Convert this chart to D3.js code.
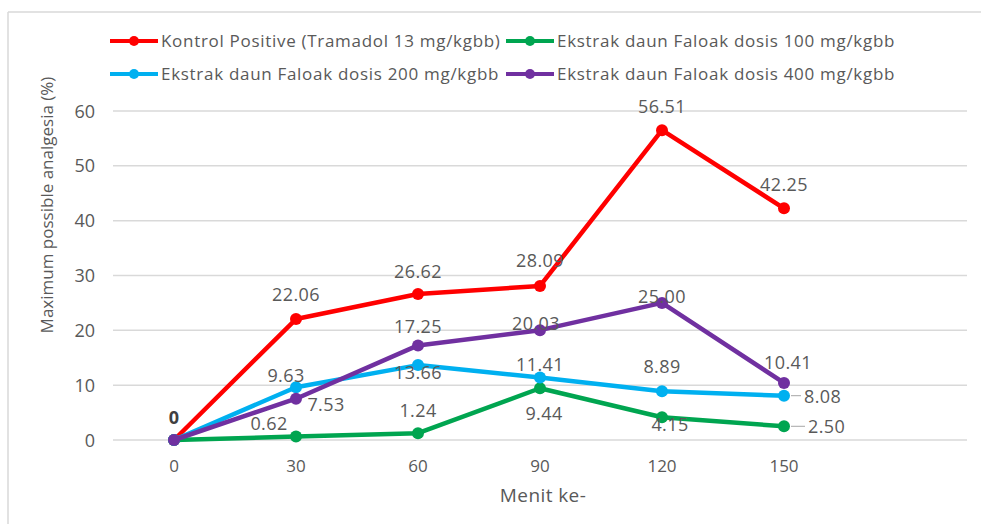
<!DOCTYPE html>
<html>
<head>
<meta charset="utf-8">
<script src="https://cdn.jsdelivr.net/npm/d3@7"></script>
<style>
  body { margin: 0; background: #fff; }
  svg text { font-family: "Open Sans", sans-serif; fill: #595959; }
</style>
</head>
<body>
<div id="chart"></div>
<script>
// minutes (last slot is an empty category, as in the original sheet)
var minutes = ["0", "30", "60", "90", "120", "150", ""];
var yTicks = [0, 10, 20, 30, 40, 50, 60];

var seriesNames = [
  "Kontrol Positive (Tramadol 13 mg/kgbb)",
  "Ekstrak daun Faloak dosis 100 mg/kgbb",
  "Ekstrak daun Faloak dosis 200 mg/kgbb",
  "Ekstrak daun Faloak dosis 400 mg/kgbb"
];
var kontrol = [0, 22.06, 26.62, 28.09, 56.51, 42.25];
var dosis100 = [0, 0.62, 1.24, 9.44, 4.15, 2.50];
var dosis200 = [0, 9.63, 13.66, 11.41, 8.89, 8.08];
var dosis400 = [0, 7.53, 17.25, 20.03, 25.00, 10.41];

var width = 981, height = 524;
var colors = ["#ff0000", "#00a550", "#00b0f0", "#7030a0"];

// label centre offset from its point: [dx, dy]; a third item = placed right with a leader
// null = label hidden (they all overlap the first "0")
var labelOffsets = [
  [[0, -23], [0, -25], [0, -23], [0, -25], [0, -24], [0, -24]],
  [null, [-27, -13], [0, -23], [4, 25], [8, 7], [24, 0, 1]],
  [null, [-10, -12], [0, 7], [0, -13], [0, -25], [20, 1, 1]],
  [null, [30, 6], [0, -19], [-4, -7], [0, -6], [4, -20]]
];

var series = [kontrol, dosis100, dosis200, dosis400].map(function(v, i) {
  return {name: seriesNames[i], values: v, color: colors[i], offs: labelOffsets[i]};
});

var svg = d3.select("#chart").append("svg")
  .attr("width", width)
  .attr("height", height);

// frame (only top and left edges are visible in the crop)
svg.append("line").attr("x1", 8).attr("x2", 981).attr("y1", 12).attr("y2", 12)
  .attr("stroke", "#d9d9d9").attr("stroke-width", 1.5);
svg.append("line").attr("x1", 8).attr("x2", 8).attr("y1", 12).attr("y2", 524)
  .attr("stroke", "#d9d9d9").attr("stroke-width", 1.5);

var x = d3.scaleBand().domain(d3.range(minutes.length)).range([113, 967]);
var y = d3.scaleLinear().domain([0, 60]).range([440, 111]);
function cx(i) { return x(i) + x.bandwidth() / 2; }

// gridlines
svg.append("g").selectAll("line").data(yTicks).join("line")
  .attr("x1", 113).attr("x2", 967)
  .attr("y1", function(d) { return y(d); })
  .attr("y2", function(d) { return y(d); })
  .attr("stroke", "#d9d9d9").attr("stroke-width", 1.5);

// y tick labels
svg.append("g").selectAll("text").data(yTicks).join("text")
  .attr("x", 95).attr("y", function(d) { return y(d) + 6.5; })
  .attr("text-anchor", "end")
  .style("font-size", "18px")
  .text(function(d) { return d; });

// x tick labels
svg.append("g").selectAll("text").data(minutes).join("text")
  .attr("x", function(d, i) { return cx(i); })
  .attr("y", 472)
  .attr("text-anchor", "middle")
  .style("font-size", "17px")
  .text(function(d) { return d; });

// axis titles
svg.append("text")
  .attr("x", 543).attr("y", 502)
  .attr("text-anchor", "middle")
  .style("font-size", "19px")
  .style("letter-spacing", "0.4px")
  .text("Menit ke-");

svg.append("text")
  .attr("transform", "translate(53,205) rotate(-90)")
  .attr("text-anchor", "middle")
  .style("font-size", "17px")
  .text("Maximum possible analgesia (%)");

// lines + markers
var line = d3.line()
  .x(function(d, i) { return cx(i); })
  .y(function(d) { return y(d); });

series.forEach(function(s) {
  var g = svg.append("g");
  g.append("path")
    .datum(s.values)
    .attr("d", line)
    .attr("fill", "none")
    .attr("stroke", s.color)
    .attr("stroke-width", 4.5)
    .attr("stroke-linejoin", "round");
  g.selectAll("circle").data(s.values).join("circle")
    .attr("cx", function(d, i) { return cx(i); })
    .attr("cy", function(d) { return y(d); })
    .attr("r", 6)
    .attr("fill", s.color);
});

// data labels
series.forEach(function(s) {
  s.values.forEach(function(v, i) {
    var o = s.offs[i];
    if (!o) return;
    var px = cx(i), py = y(v);
    var txt = i === 0 ? "0" : v.toFixed(2);
    var t = svg.append("text").style("font-size", "18px")
      .style("letter-spacing", "0.4px").text(txt);
    if (o[2]) {
      svg.append("line").attr("x1", px + 7).attr("x2", px + o[0] - 3)
        .attr("y1", py).attr("y2", py)
        .attr("stroke", "#a6a6a6").attr("stroke-width", 1);
      t.attr("x", px + o[0]).attr("y", py + o[1] + 6.5).attr("text-anchor", "start");
    } else {
      t.attr("x", px + o[0]).attr("y", py + o[1] + 6.5).attr("text-anchor", "middle");
    }
    if (i === 0) t.style("font-weight", "bold").style("fill", "#404040");
  });
});

// legend
var legendX = [110, 506], legendY = [41, 74];
series.forEach(function(s, i) {
  var lx = legendX[i % 2], ly = legendY[Math.floor(i / 2)];
  var g = svg.append("g").attr("transform", "translate(" + lx + "," + ly + ")");
  g.append("line").attr("x1", 0).attr("x2", 48).attr("y1", 0).attr("y2", 0)
    .attr("stroke", s.color).attr("stroke-width", 4);
  g.append("circle").attr("cx", 24).attr("cy", 0).attr("r", 5).attr("fill", s.color);
  g.append("text").attr("x", 51).attr("y", 6)
    .style("font-size", "17px")
    .style("letter-spacing", "0.7px")
    .text(s.name);
});
</script>
</body>
</html>
